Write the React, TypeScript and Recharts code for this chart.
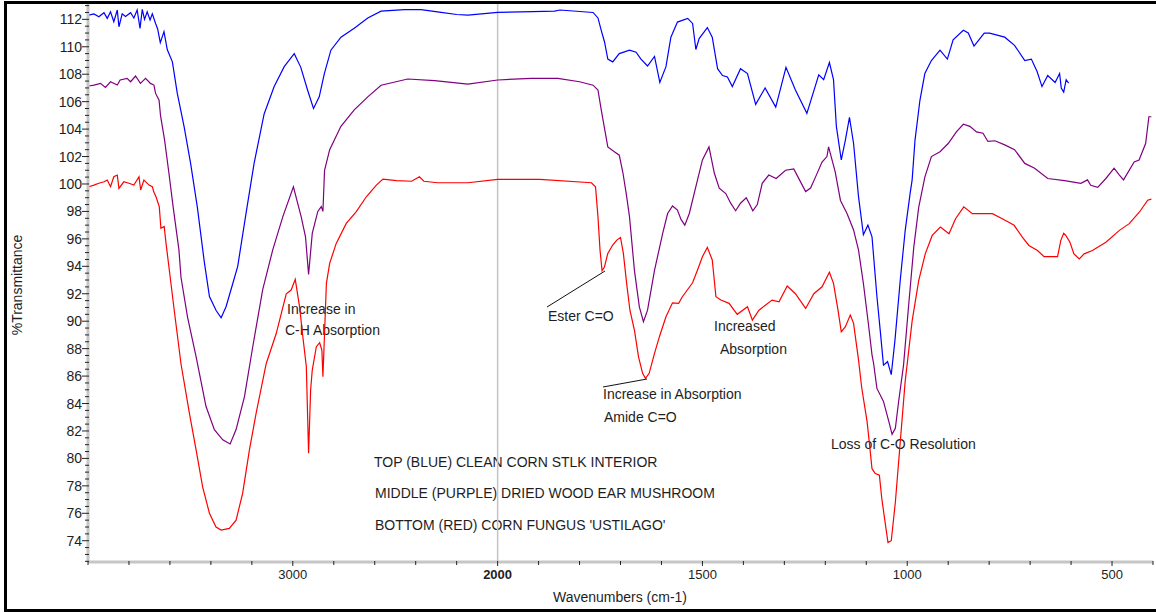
import React from 'react';
import { LineChart, Line, XAxis, YAxis, ReferenceLine } from 'recharts';

// [wavenumber (cm-1), %Transmittance]
const blueSeries: number[][] = [
  [3996,112.31],[3971,112.39],[3947,112.19],[3922,112.48],[3906,112.07],[3890,112.55],[3874,111.83],[3857,112.68],[3849,111.46],[3833,112.4],[3817,112.2],[3792,112.48],[3776,112.1],[3760,112.68],[3746,111.34],[3735,112.73],[3724,112.0],[3711,112.55],[3697,111.95],[3686,112.4],[3670,111.7],[3660,111.3],[3647,110.3],[3629,111.1],[3613,109.8],[3588,108.9],[3564,106.6],[3531,104.2],[3499,101.5],[3466,98.3],[3432,94.3],[3407,91.8],[3375,90.8],[3350,90.25],[3326,91.05],[3293,92.75],[3269,94.0],[3228,97.9],[3189,101.5],[3140,105.1],[3091,107.1],[3042,108.55],[2993,109.5],[2961,108.5],[2928,106.85],[2899,105.5],[2871,106.35],[2846,108.05],[2814,109.75],[2765,110.7],[2700,111.35],[2634,112.1],[2569,112.6],[2455,112.7],[2374,112.7],[2276,112.5],[2200,112.35],[2145,112.3],[2000,112.5],[1943,112.55],[1861,112.6],[1848,112.68],[1767,112.5],[1755,112.1],[1747,111.2],[1739,110.35],[1731,109.1],[1719,108.9],[1703,109.5],[1678,109.75],[1662,109.6],[1650,109.1],[1634,108.6],[1617,109.3],[1604,107.4],[1589,108.55],[1577,110.7],[1561,111.8],[1536,112.07],[1524,111.7],[1516,109.8],[1508,110.6],[1488,111.4],[1476,110.7],[1463,108.4],[1451,107.9],[1439,107.8],[1427,107.1],[1407,108.4],[1390,108.05],[1370,105.8],[1347,107.0],[1321,105.6],[1296,108.5],[1273,106.85],[1245,105.15],[1216,107.95],[1204,107.6],[1190,108.85],[1180,107.6],[1173,104.2],[1161,101.75],[1151,103.2],[1141,104.85],[1131,102.95],[1119,99.1],[1107,96.3],[1096,97.0],[1086,96.15],[1074,91.8],[1066,89.35],[1058,86.8],[1048,87.05],[1039,86.1],[1030,88.6],[1017,93.0],[1005,96.6],[993,99.3],[988,100.3],[981,103.2],[969,106.1],[957,108.05],[941,109.0],[920,109.75],[902,109.1],[888,110.5],[863,111.2],[851,111.0],[837,110.05],[812,111.0],[799,111.0],[762,110.7],[738,110.1],[713,109.0],[697,109.1],[683,108.2],[671,107.1],[657,107.9],[639,107.4],[628,108.05],[624,107.0],[618,106.7],[612,107.6],[606,107.35]
];

const purpleSeries: number[][] = [
  [3996,107.14],[3971,107.21],[3939,107.33],[3915,107.04],[3890,107.45],[3857,107.21],[3843,107.58],[3809,107.7],[3792,107.45],[3768,107.87],[3744,107.33],[3719,107.7],[3695,107.33],[3678,107.21],[3670,106.6],[3653,106.1],[3646,105.0],[3626,103.2],[3605,100.8],[3584,98.3],[3556,95.2],[3546,93.2],[3514,90.3],[3472,87.4],[3424,83.8],[3383,82.1],[3342,81.35],[3306,81.05],[3277,82.1],[3236,84.5],[3196,88.1],[3147,92.3],[3098,95.2],[3049,97.6],[2997,99.8],[2959,97.6],[2938,96.15],[2923,93.4],[2905,96.4],[2878,98.0],[2861,98.35],[2853,98.0],[2845,101.0],[2820,102.5],[2765,104.2],[2700,105.4],[2634,106.35],[2569,107.2],[2439,107.65],[2308,107.53],[2145,107.28],[2000,107.58],[1918,107.7],[1853,107.7],[1800,107.45],[1767,107.2],[1755,106.85],[1747,105.4],[1739,104.05],[1731,102.7],[1715,102.35],[1703,102.1],[1694,100.8],[1686,99.3],[1678,97.6],[1666,93.7],[1654,91.05],[1644,89.96],[1634,90.8],[1617,93.7],[1597,96.4],[1585,97.85],[1573,98.4],[1561,98.1],[1552,97.4],[1543,97.0],[1532,97.85],[1516,99.8],[1500,101.75],[1484,102.7],[1471,100.8],[1459,99.7],[1443,99.3],[1431,98.6],[1419,98.05],[1407,98.6],[1393,99.0],[1386,98.6],[1377,98.05],[1366,98.5],[1354,100.05],[1338,100.65],[1320,100.4],[1297,101.0],[1277,101.1],[1263,100.3],[1248,99.45],[1236,99.7],[1224,100.5],[1208,101.6],[1196,102.0],[1192,102.7],[1176,100.9],[1163,98.8],[1147,97.85],[1131,96.65],[1119,95.2],[1107,92.75],[1095,89.85],[1086,87.55],[1082,86.9],[1074,85.1],[1058,84.15],[1045,82.7],[1037,81.75],[1029,82.2],[1021,84.15],[1009,86.8],[997,91.0],[984,95.4],[972,98.3],[957,100.5],[941,102.0],[920,102.35],[900,102.95],[880,103.8],[863,104.35],[847,104.2],[831,103.8],[815,103.7],[803,103.1],[786,103.15],[762,102.85],[738,102.5],[713,101.5],[689,101.15],[657,100.4],[616,100.25],[576,100.05],[560,100.3],[552,99.9],[535,99.75],[515,100.4],[495,101.15],[482,100.65],[472,100.3],[446,101.6],[434,101.75],[418,102.95],[410,104.9],[404,104.9]
];

const redSeries: number[][] = [
  [3996,99.8],[3971,99.92],[3947,100.05],[3922,100.16],[3906,100.29],[3890,99.8],[3874,100.53],[3857,100.65],[3849,99.68],[3825,100.16],[3800,100.05],[3776,99.92],[3751,100.53],[3743,99.56],[3727,100.29],[3702,99.92],[3686,99.8],[3678,99.4],[3668,99.07],[3652,98.35],[3644,96.77],[3628,96.9],[3619,95.67],[3603,93.73],[3579,90.8],[3546,86.9],[3505,83.3],[3472,80.6],[3440,77.9],[3407,76.0],[3375,75.0],[3350,74.78],[3310,74.9],[3277,75.5],[3245,77.45],[3212,80.6],[3179,83.3],[3130,86.9],[3081,89.1],[3032,92.0],[3008,92.27],[2988,93.05],[2967,91.05],[2951,88.87],[2934,86.7],[2923,80.37],[2913,84.98],[2905,86.44],[2885,88.14],[2869,88.43],[2858,87.9],[2853,85.95],[2848,87.9],[2836,92.76],[2820,94.22],[2788,95.67],[2739,97.13],[2690,97.98],[2641,99.07],[2592,99.92],[2560,100.36],[2494,100.24],[2420,100.2],[2382,100.53],[2360,100.2],[2292,100.09],[2145,100.09],[2000,100.34],[1897,100.34],[1771,100.09],[1761,99.8],[1755,97.6],[1750,95.18],[1745,93.68],[1739,93.97],[1731,94.94],[1719,95.55],[1709,95.91],[1700,96.1],[1693,94.94],[1685,92.76],[1677,90.8],[1666,89.35],[1656,87.4],[1646,86.2],[1639,85.83],[1630,86.2],[1617,87.66],[1605,88.87],[1589,90.32],[1573,91.34],[1558,91.3],[1549,91.78],[1524,92.8],[1512,93.73],[1500,94.7],[1488,95.38],[1476,94.46],[1467,91.78],[1455,91.54],[1435,91.3],[1415,90.5],[1390,91.05],[1378,90.08],[1362,90.8],[1330,91.54],[1313,91.42],[1293,92.56],[1273,92.0],[1248,90.93],[1228,92.0],[1208,92.51],[1190,93.56],[1180,92.76],[1169,90.8],[1161,89.23],[1151,89.6],[1139,90.45],[1131,89.84],[1119,87.2],[1111,85.13],[1098,82.68],[1092,81.0],[1086,79.25],[1078,78.89],[1068,78.77],[1062,77.05],[1054,75.34],[1047,73.87],[1039,74.0],[1029,76.8],[1017,81.21],[1005,85.61],[988,90.02],[972,92.95],[956,94.91],[939,96.25],[919,96.86],[898,96.37],[882,97.47],[862,98.33],[841,97.84],[817,97.84],[792,97.84],[768,97.47],[739,96.99],[719,96.13],[703,95.52],[682,95.15],[666,94.71],[633,94.71],[625,95.89],[618,96.4],[613,96.25],[603,95.77],[593,94.91],[580,94.54],[568,94.91],[548,95.15],[515,95.76],[482,96.62],[458,97.11],[433,97.96],[413,98.82],[404,98.9]
];

const xTickLabels = ['3000', '2000', '1500', '1000', '500'];
const yTickLabels = [74, 76, 78, 80, 82, 84, 86, 88, 90, 92, 94, 96, 98, 100, 102, 104, 106, 108, 110, 112];

const legendLines = [
  'TOP (BLUE) CLEAN CORN STLK INTERIOR',
  'MIDDLE (PURPLE) DRIED WOOD EAR MUSHROOM',
  "BOTTOM (RED) CORN FUNGUS 'USTILAGO'",
];

const FONT = '"Liberation Sans", Arial, Helvetica, sans-serif';
const TEXT = '#1e1e1e';

// Spectrometer-style split scale: above 2000 cm-1 the axis is compressed 2:1
const toAxis = (w: number) => (w > 2000 ? 2000 + (w - 2000) / 2 : w);
const fromAxis = (t: number) => (t > 2000 ? 2000 + (t - 2000) * 2 : t);

const build = (s: number[][]) => s.map(([w, v]) => ({ t: toAxis(w), v }));
const blueData = build(blueSeries);
const purpleData = build(purpleSeries);
const redData = build(redSeries);

const xTicks: number[] = [];
for (let t = 400; t <= 3000; t += 100) xTicks.push(t);
const yTicks: number[] = [];
for (let k = 145; k <= 226; k++) yTicks.push(k / 2);

const XTick = (props: any) => {
  const { x, y, payload } = props;
  const w = Math.round(fromAxis(payload.value));
  const idx = xTickLabels.indexOf(String(w));
  const major = idx >= 0;
  return (
    <g>
      <line x1={x} x2={x} y1={y - 1} y2={y + (major ? 4 : 3)} stroke="#222" strokeWidth={1} />
      {major && (
        <text x={x} y={y + 17} textAnchor="middle" fontSize={13} fontFamily={FONT}
          fontWeight={w === 2000 ? 'bold' : 'normal'} fill={TEXT}>
          {xTickLabels[idx]}
        </text>
      )}
    </g>
  );
};

const YTick = (props: any) => {
  const { x, y, payload } = props;
  const v = payload.value;
  const major = yTickLabels.includes(v);
  return (
    <g>
      <line x1={x - (major ? 6 : 3)} x2={x + 1} y1={y} y2={y} stroke="#222" strokeWidth={1} />
      {major && (
        <text x={x - 6} y={y + 5} textAnchor="end" fontSize={14} fontFamily={FONT} fill={TEXT}>
          {v}
        </text>
      )}
    </g>
  );
};

const note = (x: number, yc: number, s: string, key: string) => (
  <text key={key} x={x} y={yc + 5} fontSize={14} fontFamily={FONT} fill={TEXT}>{s}</text>
);

export default function App() {
  return (
    <div style={{ position: 'fixed', left: 0, top: 0, width: 1156, height: 612, overflow: 'hidden', background: '#fff' }}>
      <div style={{ position: 'absolute', left: 0, top: 0 }}>
        <LineChart width={1156} height={612} margin={{ top: 3, right: 3, left: 0, bottom: 0 }}>
          <XAxis
            type="number"
            dataKey="t"
            domain={[400, 3000]}
            reversed
            allowDataOverflow
            ticks={xTicks}
            interval={0}
            tick={<XTick />}
            tickLine={false}
            tickSize={0}
            tickMargin={0}
            height={50}
            axisLine={{ stroke: '#c6c6c6', strokeWidth: 3 }}
          />
          <YAxis
            type="number"
            domain={[72.45, 113.19]}
            allowDataOverflow
            ticks={yTicks}
            interval={0}
            tick={<YTick />}
            tickLine={false}
            tickSize={0}
            tickMargin={0}
            width={88}
            axisLine={{ stroke: '#c6c6c6', strokeWidth: 3 }}
          />
          <ReferenceLine x={2000} stroke="#c4c4c4" strokeWidth={1.5} />
          <Line data={redData} dataKey="v" stroke="#ff0000" strokeWidth={1.2} dot={false} isAnimationActive={false} type="linear" />
          <Line data={purpleData} dataKey="v" stroke="#800080" strokeWidth={1.2} dot={false} isAnimationActive={false} type="linear" />
          <Line data={blueData} dataKey="v" stroke="#0000ff" strokeWidth={1.2} dot={false} isAnimationActive={false} type="linear" />

          <text x={620} y={602} textAnchor="middle" fontSize={14} fontFamily={FONT} fill={TEXT}>Wavenumbers (cm-1)</text>
          <text x={22} y={285} textAnchor="middle" fontSize={14} fontFamily={FONT} fill={TEXT} transform="rotate(-90 22 285)">%Transmittance</text>

          {note(287, 309, 'Increase in', 'a1')}
          {note(285, 330, 'C-H Absorption', 'a2')}
          {note(548, 316, 'Ester C=O', 'a3')}
          <line x1={547} y1={307} x2={605} y2={271} stroke="#111" strokeWidth={1} />
          {note(603, 394, 'Increase in Absorption', 'a4')}
          {note(604, 417, 'Amide C=O', 'a5')}
          <line x1={603} y1={387} x2={647} y2={379} stroke="#111" strokeWidth={1} />
          {note(714, 326, 'Increased', 'a6')}
          {note(720, 349, 'Absorption', 'a7')}
          {note(831, 444, 'Loss of C-O Resolution', 'a8')}
          {note(374, 462, legendLines[0], 'l1')}
          {note(375, 493, legendLines[1], 'l2')}
          {note(375, 525, legendLines[2], 'l3')}
        </LineChart>
      </div>
      <div style={{ position: 'absolute', left: 4, top: 1, width: 1200, height: 611, boxSizing: 'border-box', border: '3px solid #000', pointerEvents: 'none' }} />
    </div>
  );
}
